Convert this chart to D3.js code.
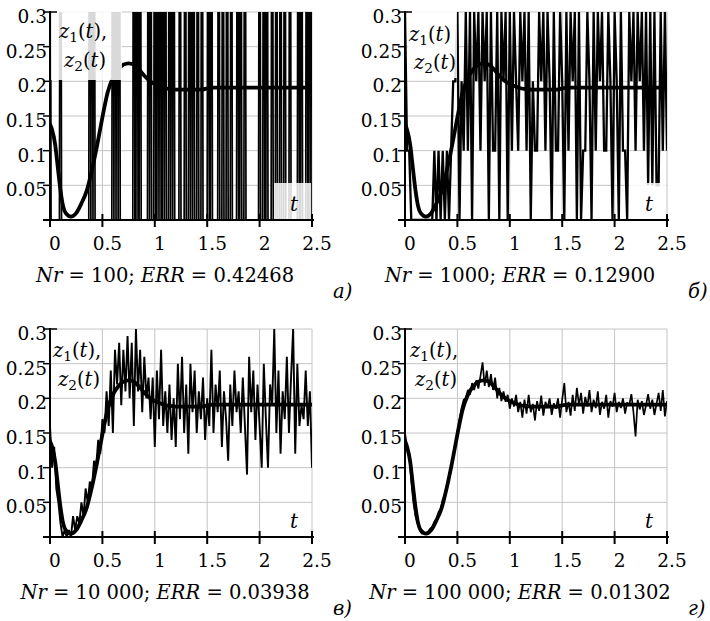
<!DOCTYPE html>
<html>
<head>
<meta charset="utf-8">
<script src="https://cdn.jsdelivr.net/npm/d3@7"></script>
<style>
  body { margin: 0; background: #fff; }
  svg { display: block; }
</style>
</head>
<body>
<div id="chart"></div>
<script>
// exact curve z2(t) (same in all four panels)
const tSmooth = [0, 0.02, 0.05, 0.075, 0.1, 0.125, 0.15, 0.2, 0.25, 0.3, 0.35, 0.4, 0.45, 0.5, 0.55, 0.6, 0.65, 0.7, 0.75, 0.8, 0.85, 0.9, 0.95, 1.0, 1.05, 1.1, 1.15, 1.2, 1.3, 1.4, 1.45, 1.5, 1.55, 1.7, 2.0, 2.3, 2.5];
const zSmooth = [0.138, 0.13, 0.108, 0.075, 0.043, 0.02, 0.01, 0.005, 0.01, 0.024, 0.042, 0.072, 0.108, 0.148, 0.184, 0.205, 0.217, 0.224, 0.226, 0.224, 0.217, 0.208, 0.201, 0.196, 0.193, 0.19, 0.189, 0.188, 0.188, 0.188, 0.188, 0.19, 0.191, 0.191, 0.191, 0.191, 0.191];

// Nr = 100: times (step 0.01) where the estimate jumps to 1, zero elsewhere
const spikesA = [0.00, 0.10, 0.38, 0.40, 0.42, 0.60, 0.62, 0.64, 0.66, 0.80, 0.83, 0.86, 0.94, 0.96, 1.00, 1.03, 1.05, 1.08, 1.10, 1.14, 1.16, 1.18, 1.24, 1.29, 1.33, 1.35, 1.37, 1.41, 1.45, 1.51, 1.54, 1.61, 1.65, 1.69, 1.73, 1.79, 1.82, 1.86, 2.00, 2.04, 2.07, 2.12, 2.16, 2.20, 2.24, 2.29, 2.37, 2.40, 2.45, 2.48, 2.50];

// Nr = 1000, 10 000, 100 000: estimate z1(t) every 0.02 from t = 0 to 2.5
const noiseB = [0.3, 0.1, 0.1, 0, 0, 0, 0, 0, 0, 0, 0, 0, 0, 0, 0.1, 0, 0.1, 0, 0.1, 0,
  0.1, 0, 0.1, 0.2, 0.2, 0.3, 0, 0.2, 0.1, 0.3, 0.1, 0.3, 0, 0.3, 0.2, 0.3, 0.1, 0.3, 0.2, 0.3,
  0, 0.3, 0.1, 0.1, 0.3, 0, 0.3, 0.2, 0.3, 0, 0.3, 0.1, 0.3, 0.2, 0.1, 0.3, 0.2, 0.3, 0.1, 0.3,
  0, 0.2, 0.1, 0.1, 0.3, 0.2, 0.3, 0.1, 0.3, 0.2, 0, 0.3, 0.1, 0.1, 0.3, 0.2, 0, 0.3, 0.1, 0.3,
  0.2, 0.3, 0, 0.3, 0, 0.1, 0.1, 0.3, 0.2, 0, 0.3, 0.1, 0.3, 0.2, 0.3, 0.1, 0.1, 0.3, 0.2, 0,
  0.3, 0.2, 0, 0.3, 0.1, 0.1, 0, 0.3, 0.2, 0.3, 0.1, 0.3, 0.2, 0.3, 0.1, 0.3, 0.05, 0.3, 0.05, 0.3,
  0.05, 0.05, 0.3, 0.1, 0.3, 0.1];
const noiseC = [0.16, 0.10, 0.13, 0.07, 0.05, 0.02, 0.00, 0.01, 0.00, 0.01, 0.00, 0.03, 0.01, 0.03, 0.02, 0.05, 0.03, 0.07, 0.05, 0.08,
  0.07, 0.11, 0.10, 0.14, 0.12, 0.17, 0.15, 0.21, 0.16, 0.24, 0.15, 0.27, 0.22, 0.28, 0.19, 0.27, 0.21, 0.29, 0.20, 0.28,
  0.16, 0.30, 0.21, 0.27, 0.18, 0.26, 0.20, 0.23, 0.17, 0.23, 0.13, 0.24, 0.17, 0.27, 0.16, 0.21, 0.15, 0.22, 0.14, 0.20,
  0.13, 0.25, 0.17, 0.26, 0.15, 0.22, 0.12, 0.25, 0.18, 0.24, 0.15, 0.21, 0.17, 0.23, 0.14, 0.20, 0.16, 0.27, 0.15, 0.22,
  0.18, 0.24, 0.13, 0.21, 0.17, 0.11, 0.22, 0.16, 0.24, 0.18, 0.21, 0.15, 0.23, 0.16, 0.09, 0.26, 0.18, 0.24, 0.14, 0.22,
  0.16, 0.10, 0.25, 0.17, 0.10, 0.22, 0.19, 0.30, 0.15, 0.24, 0.12, 0.21, 0.17, 0.26, 0.15, 0.23, 0.30, 0.12, 0.25, 0.16,
  0.19, 0.17, 0.24, 0.16, 0.21, 0.10];
const noiseD = [0.15, 0.13, 0.12, 0.08, 0.05, 0.03, 0.02, 0.01, 0.005, 0.006, 0.005, 0.008, 0.012, 0.014, 0.022, 0.026, 0.036, 0.040, 0.054, 0.062,
  0.075, 0.088, 0.100, 0.116, 0.132, 0.152, 0.170, 0.186, 0.198, 0.200, 0.212, 0.205, 0.222, 0.212, 0.226, 0.214, 0.232, 0.252, 0.218, 0.240,
  0.216, 0.235, 0.212, 0.230, 0.200, 0.215, 0.196, 0.210, 0.195, 0.205, 0.185, 0.200, 0.188, 0.205, 0.180, 0.195, 0.172, 0.198, 0.178, 0.205,
  0.180, 0.192, 0.168, 0.196, 0.182, 0.204, 0.175, 0.195, 0.186, 0.200, 0.176, 0.193, 0.185, 0.200, 0.172, 0.198, 0.222, 0.180, 0.195, 0.175,
  0.205, 0.182, 0.215, 0.190, 0.208, 0.178, 0.202, 0.188, 0.212, 0.180, 0.198, 0.186, 0.210, 0.176, 0.195, 0.185, 0.205, 0.172, 0.196, 0.188,
  0.208, 0.180, 0.195, 0.186, 0.200, 0.178, 0.194, 0.190, 0.206, 0.180, 0.145, 0.198, 0.184, 0.196, 0.176, 0.190, 0.206, 0.185, 0.198, 0.176,
  0.192, 0.208, 0.182, 0.212, 0.174, 0.196];

const xTicks = [0, 0.5, 1, 1.5, 2, 2.5];
const xTickLabels = ["0", "0.5", "1", "1.5", "2", "2.5"];
const yTicks = [0.05, 0.1, 0.15, 0.2, 0.25, 0.3];
const yTickLabels = ["0.05", "0.1", "0.15", "0.2", "0.25", "0.3"];
const nrLabels = ["100", "1000", "10 000", "100 000"];
const errLabels = ["0.42468", "0.12900", "0.03938", "0.01302"];
const panelLetters = ["а)", "б)", "в)", "г)"];

// layout
const W = 262, H = 208;
const FONT = "DejaVu Serif"; // the only serif face that resolves here
const layout = [
  { x: 50, y: 12, zBox: [0, 72, 68], zText: [9, 26, 55], tBox: true },
  { x: 405, y: 12, zBox: [3, 52, 66], zText: [4, 29, 57], tBox: true },
  { x: 50, y: 329, zBox: null, zText: [3, 28, 57], tBox: false },
  { x: 405, y: 329, zBox: null, zText: [5, 28, 57], tBox: false }
];

const tGrid = d3.range(0, 251).map(i => i / 100);
const seriesA = tGrid.map(t => spikesA.some(s => Math.abs(s - t) < 0.001) ? 1 : 0);
const noisy = [
  { t: tGrid, v: seriesA, w: 1.7 },
  { t: noiseB.map((d, i) => i * 0.02), v: noiseB, w: 2.3 },
  { t: noiseC.map((d, i) => i * 0.02), v: noiseC, w: 1.9 },
  { t: noiseD.map((d, i) => i * 0.02), v: noiseD, w: 1.7 }
];

const svg = d3.select("#chart").append("svg")
  .attr("width", 710)
  .attr("height", 621);

const x = d3.scaleLinear().domain([0, 2.5]).range([0, W]);
const y = d3.scaleLinear().domain([0, 0.3]).range([H, 0]);

svg.append("defs").append("clipPath").attr("id", "plotclip")
  .append("rect").attr("x", 0).attr("y", 0).attr("width", W).attr("height", H);

function text(g, px, py, parts, size, anchor) {
  const t = g.append("text")
    .attr("x", px).attr("y", py)
    .attr("font-family", FONT)
    .attr("font-size", size)
    .attr("text-anchor", anchor || "start")
    .attr("fill", "#000");
  parts.forEach(p => {
    const s = t.append("tspan").text(p.s);
    if (p.i) s.attr("font-style", "italic");
    if (p.sub) s.attr("font-size", size * 0.7).attr("dy", 4);
    if (p.up) s.attr("dy", -4);
  });
  return t;
}

const line = d3.line().x(d => x(d[0])).y(d => y(d[1]));
const smoothLine = d3.line().x(d => x(d[0])).y(d => y(d[1])).curve(d3.curveMonotoneX);

layout.forEach((p, k) => {
  const g = svg.append("g").attr("transform", `translate(${p.x},${p.y})`);

  // grid
  g.append("g").selectAll("line").data(yTicks).enter().append("line")
    .attr("x1", 0).attr("x2", W).attr("y1", d => y(d)).attr("y2", d => y(d))
    .attr("stroke", "#c4c4c4").attr("stroke-width", 1);
  g.append("g").selectAll("line").data(xTicks.slice(1)).enter().append("line")
    .attr("x1", d => x(d)).attr("x2", d => x(d)).attr("y1", 0).attr("y2", H)
    .attr("stroke", "#c4c4c4").attr("stroke-width", 1);

  const plot = g.append("g").attr("clip-path", "url(#plotclip)");

  // noisy estimate z1(t)
  const n = noisy[k];
  plot.append("path")
    .datum(n.t.map((t, i) => [t, n.v[i]]))
    .attr("d", line)
    .attr("fill", "none").attr("stroke", "#000")
    .attr("stroke-width", n.w).attr("stroke-linejoin", "miter").attr("stroke-miterlimit", 2);

  // exact z2(t)
  plot.append("path")
    .datum(tSmooth.map((t, i) => [t, zSmooth[i]]))
    .attr("d", smoothLine)
    .attr("fill", "none").attr("stroke", "#000").attr("stroke-width", 3.8)
    .attr("stroke-linecap", "round");

  // label backgrounds
  if (p.zBox) {
    g.append("rect").attr("x", p.zBox[0]).attr("y", -2)
      .attr("width", p.zBox[1] - p.zBox[0]).attr("height", p.zBox[2] + 2)
      .attr("fill", "#fff").attr("opacity", 0.85);
  }
  if (p.tBox) {
    g.append("rect").attr("x", W - 38).attr("y", H - 37)
      .attr("width", 37).attr("height", 36)
      .attr("fill", "#fff").attr("opacity", 0.85);
  }

  // axes
  g.append("line").attr("x1", -7).attr("x2", W + 2).attr("y1", H).attr("y2", H)
    .attr("stroke", "#000").attr("stroke-width", 2);
  g.append("line").attr("x1", 0).attr("x2", 0).attr("y1", -1).attr("y2", H + 7)
    .attr("stroke", "#000").attr("stroke-width", 2);
  g.append("g").selectAll("line").data(xTicks.slice(1)).enter().append("line")
    .attr("x1", d => x(d)).attr("x2", d => x(d)).attr("y1", H - 6).attr("y2", H + 7)
    .attr("stroke", "#000").attr("stroke-width", 2);
  g.append("g").selectAll("line").data(yTicks).enter().append("line")
    .attr("x1", -7).attr("x2", d => d === 0.3 ? 7 : 0).attr("y1", d => y(d)).attr("y2", d => y(d))
    .attr("stroke", "#000").attr("stroke-width", 1.5);

  // tick labels
  xTicks.forEach((t, i) => text(g, x(t) + 5, H + 30, [{ s: xTickLabels[i] }], 18.5, "middle"));
  yTicks.forEach((v, i) => text(g, -3, y(v) + 11, [{ s: yTickLabels[i] }], 18.5, "end"));

  // z1(t), z2(t) and t
  const zt = p.zText;
  text(g, zt[0], zt[1], [{ s: "z", i: true }, { s: "1", sub: true }, { s: "(", up: true }, { s: "t", i: true }, { s: ")" }, { s: k === 1 ? "" : "," }], 19.5);
  text(g, zt[0] + 5, zt[2], [{ s: "z", i: true }, { s: "2", sub: true }, { s: "(", up: true }, { s: "t", i: true }, { s: ")" }], 19.5);
  text(g, W - 22, H - 9, [{ s: "t", i: true }], 20);

  // caption and panel letter
  text(g, 115, 270, [{ s: "Nr", i: true }, { s: " = " + nrLabels[k] + "; " }, { s: "ERR", i: true }, { s: " = " + errLabels[k] }], 19.5, "middle");
  text(g, 283, 286, [{ s: panelLetters[k], i: true }], 19.5);
});
</script>
</body>
</html>
